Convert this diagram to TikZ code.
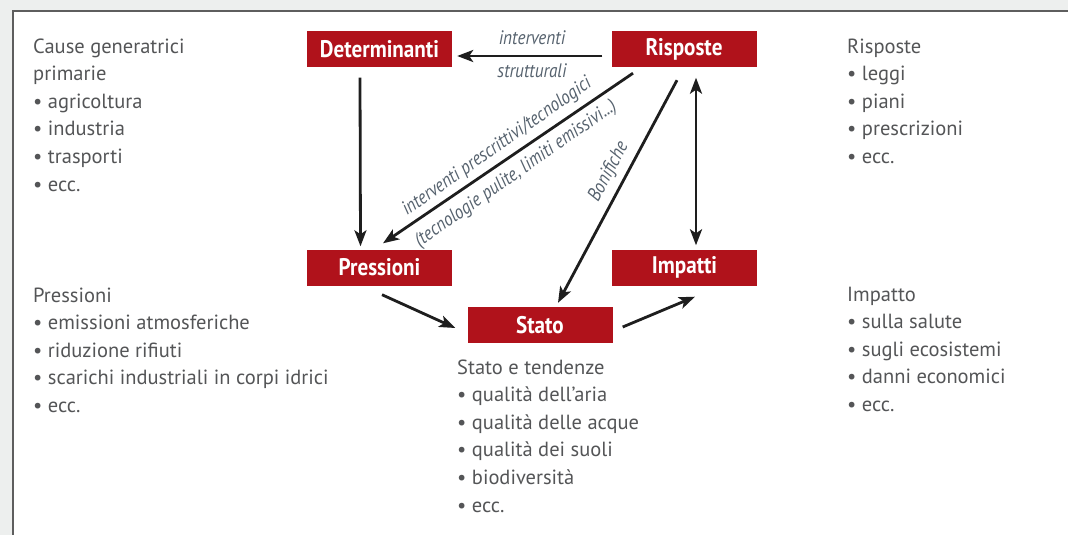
\documentclass[tikz,border=0pt]{standalone}
\usepackage{fontspec}
\setmainfont{PT Sans}
\newfontfamily\condfont[FakeStretch=0.88]{PT Sans}
\usetikzlibrary{arrows.meta}
\definecolor{boxred}{HTML}{B0121B}
\definecolor{txtgray}{HTML}{545557}
\definecolor{lblgray}{HTML}{56626E}
\definecolor{framegray}{HTML}{EDEFEE}
\definecolor{framedark}{HTML}{5E5E5E}
\definecolor{arrowc}{HTML}{1E1E1E}
\tikzset{mytip/.tip={Stealth[length=16pt,width=12pt,inset=4pt]}}
\begin{document}
\begin{tikzpicture}[x=1pt,y=-1pt,
 box/.style={fill=boxred, text=white, minimum width=145pt, minimum height=36pt, inner sep=0pt, font=\condfont\bfseries\fontsize{24}{26}\selectfont},
 body/.style={text=txtgray, inner sep=0pt, anchor=base west, font=\fontsize{20.5}{24}\selectfont},
 lbl/.style={text=lblgray, inner sep=0pt, font=\condfont\itshape\fontsize{19.5}{22}\selectfont},
 arr/.style={draw=arrowc, line width=2.8pt, -mytip},
 darr/.style={draw=arrowc, line width=2.8pt, mytip-mytip},
]
\useasboundingbox (0,0) rectangle (1068,535);
\fill[framegray] (0,0) rectangle (1068,535);
\fill[white] (13,11) rectangle (1068,535);
\draw[framedark, line width=1.8pt] (13,535) -- (13,11) -- (1068,11);

% boxes
\node[box] (det) at (379.5,49.5) {Determinanti};
\node[box] (ris) at (684,49.5) {Risposte};
\node[box] (pre) at (379.5,267.5) {Pressioni};
\node[box] (imp) at (684.5,267.5) {Impatti};
\node[box] (sta) at (540,325) {Stato};

% arrows
\draw[arr] ([xshift=-9pt,yshift=-6.5pt]ris.west) -- ([xshift=5pt,yshift=-6.5pt]det.east);
\draw[arr] ([xshift=-19.5pt,yshift=-10pt]det.south) -- ([xshift=-19pt,yshift=3pt]pre.north);
\draw[arr] ([xshift=-51pt,yshift=-5.5pt]ris.south) -- ([xshift=3.5pt,yshift=6pt]pre.north);
\draw[arr] ([xshift=-7pt,yshift=-12.5pt]ris.south) -- ([xshift=18pt,yshift=4pt]sta.north);
\draw[darr] ([xshift=12pt,yshift=-10pt]ris.south) -- ([xshift=11.5pt,yshift=4pt]imp.north);
\draw[arr] ([xshift=2.5pt,yshift=-9pt]pre.south) -- ([xshift=-12pt,yshift=-3pt]sta.west);
\draw[arr] ([xshift=10pt,yshift=-2pt]sta.east) -- ([xshift=10.5pt,yshift=-11pt]imp.south);

% arrow labels
\node[lbl] (l1) at (532,38) {interventi};
\node[lbl] (l2) at (532,71) {strutturali};
\node[lbl, rotate=35] (l3) at (497,147) {interventi prescrittivi/tecnologici};
\node[lbl, rotate=35] (l4) at (516,174) {(tecnologie pulite, limiti emissivi...)};
\node[lbl, rotate=62] (l5) at (609,172) {Bonifiche};

% text blocks
\foreach \t [count=\i] in {Cause generatrici, primarie, • agricoltura, • industria, • trasporti, • ecc.}
  \node[body] (a\i) at (33,{53+27.6*(\i-1)}) {\t};
\foreach \t [count=\i] in {Pressioni, • emissioni atmosferiche, • riduzione rifiuti, • scarichi industriali in corpi idrici, • ecc.}
  \node[body] (b\i) at (33,{302+27.6*(\i-1)}) {\t};
\foreach \t [count=\i] in {Stato e tendenze, • qualità dell’aria, • qualità delle acque, • qualità dei suoli, • biodiversità, • ecc.}
  \node[body] (c\i) at (457,{374+27.6*(\i-1)}) {\t};
\foreach \t [count=\i] in {Risposte, • leggi, • piani, • prescrizioni, • ecc.}
  \node[body] (d\i) at (847,{53+27.6*(\i-1)}) {\t};
\foreach \t [count=\i] in {Impatto, • sulla salute, • sugli ecosistemi, • danni economici, • ecc.}
  \node[body] (e\i) at (847,{301+27.6*(\i-1)}) {\t};
\end{tikzpicture}
\end{document}
